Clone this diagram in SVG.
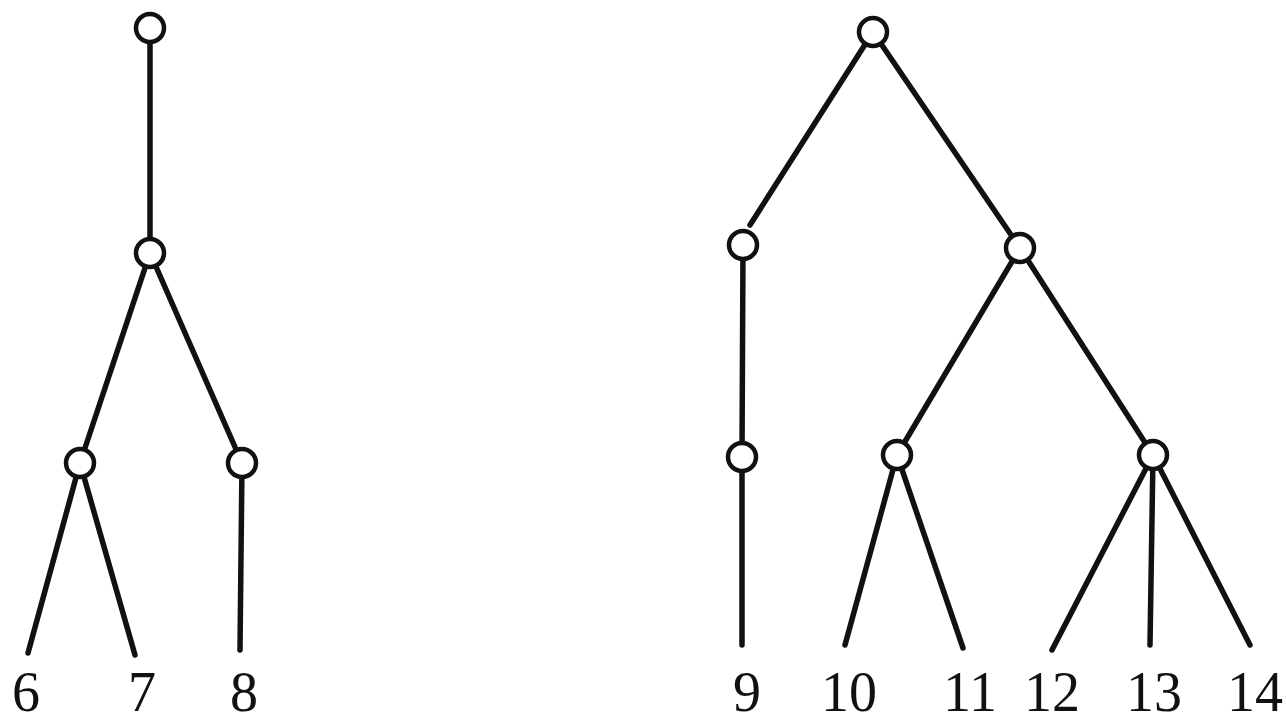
<svg xmlns="http://www.w3.org/2000/svg" width="1286" height="724" viewBox="0 0 1286 724">
<style>
.e{stroke:#111;stroke-width:5.5;stroke-linecap:round;fill:none}
.n{fill:#fff;stroke:#111;stroke-width:4.5}
.t{font-family:"Liberation Serif","Times New Roman",serif;font-size:56px;fill:#111;text-anchor:middle}
</style>
<rect width="1286" height="724" fill="#fff"/>
<g id="connectors">
<line class="e" x1="150" y1="28" x2="150" y2="253"/>
<line class="e" x1="150" y1="253" x2="80" y2="463"/>
<line class="e" x1="150" y1="253" x2="242" y2="463"/>
<line class="e" x1="80" y1="463" x2="28" y2="653"/>
<line class="e" x1="80" y1="463" x2="135" y2="655"/>
<line class="e" x1="242" y1="463" x2="240" y2="650"/>
<line class="e" x1="873" y1="32" x2="750" y2="225"/>
<line class="e" x1="873" y1="32" x2="1020" y2="248"/>
<line class="e" x1="743" y1="245" x2="742" y2="457"/>
<line class="e" x1="742" y1="457" x2="742" y2="645"/>
<line class="e" x1="1020" y1="248" x2="897" y2="455"/>
<line class="e" x1="1020" y1="248" x2="1153" y2="455"/>
<line class="e" x1="897" y1="455" x2="845" y2="645"/>
<line class="e" x1="897" y1="455" x2="963" y2="648"/>
<line class="e" x1="1153" y1="455" x2="1052" y2="650"/>
<line class="e" x1="1153" y1="455" x2="1150" y2="645"/>
<line class="e" x1="1153" y1="455" x2="1250" y2="645"/>
</g>
<g id="n1"><circle class="n" cx="150" cy="28" r="14"/></g>
<g id="n2"><circle class="n" cx="150" cy="253" r="14"/></g>
<g id="n3"><circle class="n" cx="80" cy="463" r="14"/></g>
<g id="n4"><circle class="n" cx="242" cy="463" r="14"/></g>
<g id="n5"><circle class="n" cx="873" cy="32" r="14"/></g>
<g id="n6"><circle class="n" cx="743" cy="245" r="14"/></g>
<g id="n7"><circle class="n" cx="1020" cy="248" r="14"/></g>
<g id="n8"><circle class="n" cx="742" cy="457" r="14"/></g>
<g id="n9"><circle class="n" cx="897" cy="455" r="14"/></g>
<g id="n10"><circle class="n" cx="1153" cy="455" r="14"/></g>
<g id="labels">
<text class="t" x="26" y="711">6</text>
<text class="t" x="142" y="711">7</text>
<text class="t" x="244" y="711">8</text>
<text class="t" x="747" y="711">9</text>
<text class="t" x="849" y="711">10</text>
<text class="t" x="970" y="711">11</text>
<text class="t" x="1052" y="711">12</text>
<text class="t" x="1154" y="711">13</text>
<text class="t" x="1255" y="711">14</text>
</g>
</svg>
